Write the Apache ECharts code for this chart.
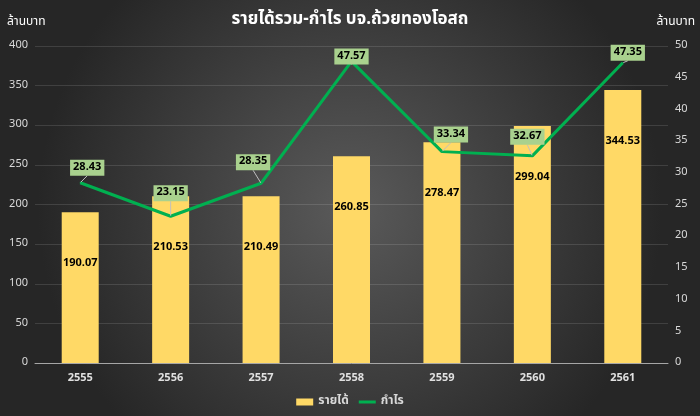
<!DOCTYPE html>
<html><head><meta charset="utf-8">
<script src="https://cdn.jsdelivr.net/npm/echarts@6/dist/echarts.min.js"></script>
<style>html,body{margin:0;padding:0;background:#333}#c{width:700px;height:416px}</style>
</head><body><div id="c"></div>
<script>
const categories = ['2555','2556','2557','2558','2559','2560','2561'];
const revenue = [190.07, 210.53, 210.49, 260.85, 278.47, 299.04, 344.53];
const profit = [28.43, 23.15, 28.35, 47.57, 33.34, 32.67, 47.35];
const leftTicks = {min: 0, max: 400, interval: 50};
const rightTicks = {min: 0, max: 50, interval: 5};
// label offsets (px) of the profit callouts relative to their point, as placed in the original
const profitLabelOffsets = [[7,-15],[0,-23],[-8,-21],[0,-5],[9,-17],[-5,-19],[5,-10]];
const FONT = '"Noto Sans Thai","Noto Sans","DejaVu Sans",sans-serif';

const chart = echarts.init(document.getElementById('c'));
chart.setOption({
  backgroundColor: {type:'radial', x:0.5, y:0.5, r:0.75,
    colorStops:[{offset:0,color:'#5a5a5a'},{offset:1,color:'#262626'}]},
  textStyle:{fontFamily:FONT},
  title:[
    {text:'รายได้รวม-กำไร บจ.ถ้วยทองโอสถ', left:'center', top:7,
     textStyle:{color:'#ffffff', fontSize:17, fontWeight:'bold', fontFamily:FONT}},
    {text:'ล้านบาท', left:2, top:12, textStyle:{color:'#ffffff', fontSize:12, fontWeight:'normal', fontFamily:FONT}},
    {text:'ล้านบาท', right:0, top:12, textStyle:{color:'#ffffff', fontSize:12, fontWeight:'normal', fontFamily:FONT}}
  ],
  legend:{bottom:3, left:'center', itemWidth:17, itemHeight:7, itemGap:10,
    textStyle:{color:'#d9d9d9', fontSize:12, fontWeight:'bold', fontFamily:FONT},
    data:[{name:'รายได้', icon:'rect'},{name:'กำไร', icon:'path://M0,0 H17 V3 H0 Z'}]},
  grid:{left:35, right:32, top:46, bottom:53},
  xAxis:{type:'category', data:categories,
    axisLine:{lineStyle:{color:'#a6a6a6', width:1}},
    axisTick:{show:false},
    axisLabel:{color:'#e0e0e0', fontWeight:'bold', fontSize:11, margin:10}},
  yAxis:[
    {type:'value', min:leftTicks.min, max:leftTicks.max, interval:leftTicks.interval,
     axisLine:{show:false}, axisTick:{show:false},
     axisLabel:{color:'#d9d9d9', fontSize:11, margin:7},
     splitLine:{lineStyle:{color:'rgba(255,255,255,0.12)', width:1}}},
    {type:'value', min:rightTicks.min, max:rightTicks.max, interval:rightTicks.interval,
     axisLine:{show:false}, axisTick:{show:false},
     axisLabel:{color:'#d9d9d9', fontSize:11, margin:7},
     splitLine:{show:false}}
  ],
  series:[
    {name:'รายได้', type:'bar', data:revenue, barWidth:37, yAxisIndex:0,
     itemStyle:{color:'#FFD966'},
     label:{show:true, position:'insideTop', distance:46, color:'#000', fontWeight:'bold', fontSize:11,
       formatter:p=>p.value.toFixed(2)}},
    {name:'กำไร', type:'line', data:profit, yAxisIndex:1, symbol:'circle', symbolSize:1, showSymbol:true,
     lineStyle:{color:'#00B050', width:3}, itemStyle:{color:'#00B050'},
     label:{show:true, position:'top', distance:8, color:'#000', fontWeight:'bold', fontSize:11,
       backgroundColor:'#A9D18E', padding:[3,3,2,3],
       formatter:p=>p.value.toFixed(2)},
     labelLayout:function(params){
       const o = profitLabelOffsets[params.dataIndex] || [0,-16];
       const r = params.rect;
       return {x: r.x + r.width/2 + o[0], y: r.y + r.height/2 + o[1], align:'center', verticalAlign:'middle'};
     },
     labelLine:{show:true, lineStyle:{color:'#bfbfbf', width:1}}}
  ]
});
</script></body></html>
